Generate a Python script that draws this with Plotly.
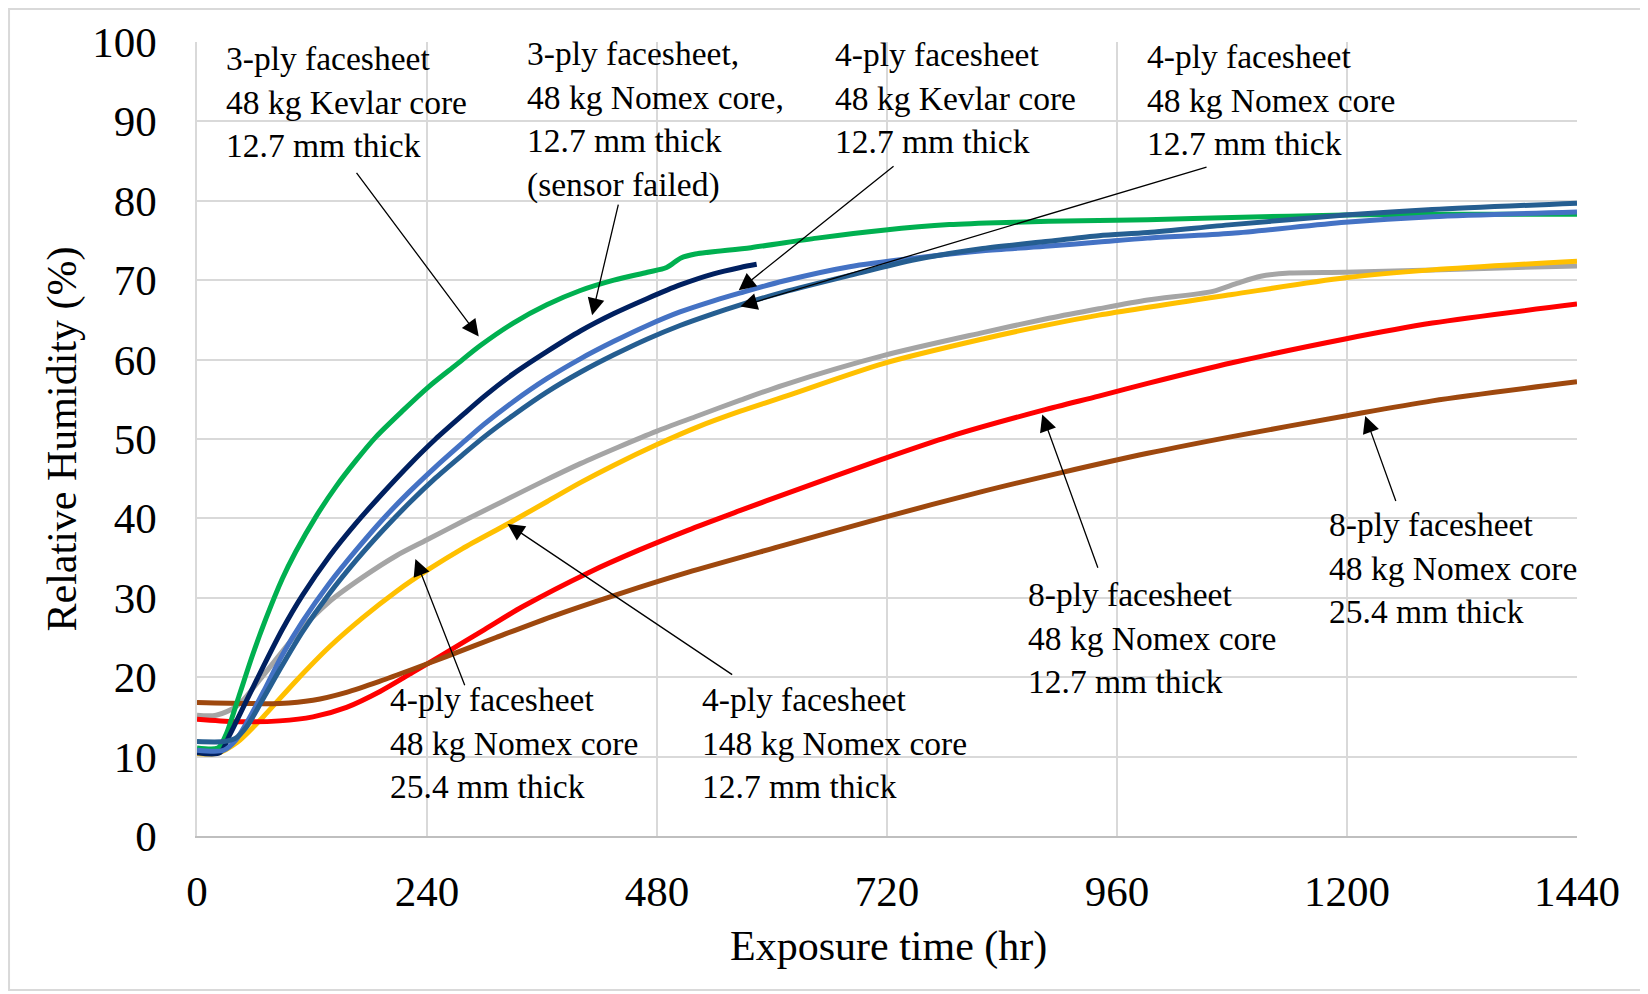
import plotly.graph_objects as go

# ---------------- data ----------------
green_x = [0, 22, 30, 44, 58, 72, 89, 103, 124, 145, 166, 187, 215, 242, 270, 296, 330, 365,
           400, 435, 470, 490, 505, 520, 578, 647, 716, 785, 854, 923, 992, 1080, 1198, 1289, 1440]
green_y = [11.1, 11.1, 12.7, 17.7, 22.8, 27.4, 32.4, 35.8, 40.2, 44.0, 47.3, 50.3, 53.6, 56.6,
           59.3, 61.8, 64.6, 66.9, 68.7, 70.0, 71.0, 71.6, 72.8, 73.3, 74.1, 75.3, 76.3, 77.0,
           77.3, 77.5, 77.6, 77.9, 78.2, 78.3, 78.3]

navy_x = [0, 24, 34, 51, 69, 89, 110, 138, 166, 194, 222, 249, 277, 300, 330, 365, 400, 435,
          470, 504, 539, 567, 584]
navy_y = [10.5, 10.5, 12.7, 16.9, 21.3, 26.0, 30.3, 35.2, 39.4, 43.2, 46.8, 50.0, 53.0, 55.4,
          58.2, 61.0, 63.6, 65.8, 67.7, 69.4, 70.8, 71.6, 72.0]

mblue_x = [0, 28, 40, 52, 69, 89, 110, 138, 166, 194, 222, 249, 277, 300, 330, 365, 400, 435,
           470, 504, 539, 567, 612, 681, 750, 820, 889, 941, 992, 1080, 1198, 1289, 1440]
mblue_y = [10.8, 10.8, 12.0, 14.3, 18.1, 22.8, 27.0, 31.8, 36.0, 39.9, 43.4, 46.5, 49.5, 51.9,
           54.7, 57.6, 60.1, 62.3, 64.3, 66.0, 67.4, 68.4, 69.9, 71.7, 72.8, 73.7, 74.3, 74.8,
           75.3, 75.9, 77.3, 78.0, 78.6]

sblue_x = [0, 28, 40, 52, 69, 89, 110, 138, 166, 194, 222, 249, 277, 300, 330, 365, 400, 435,
           470, 504, 539, 567, 612, 681, 750, 820, 889, 941, 992, 1080, 1198, 1289, 1440]
sblue_y = [11.9, 11.9, 12.3, 13.8, 17.3, 21.5, 25.7, 30.5, 34.7, 38.5, 42.0, 45.1, 48.0, 50.3,
           53.0, 55.9, 58.4, 60.6, 62.6, 64.3, 65.8, 66.9, 68.5, 70.6, 72.6, 74.0, 74.9, 75.6,
           76.0, 77.0, 78.2, 78.9, 79.7]

gray_x = [0, 20, 42, 69, 103, 138, 173, 208, 240, 280, 320, 360, 400, 440, 480, 520, 567, 612,
          716, 820, 889, 941, 992, 1060, 1085, 1110, 1140, 1198, 1289, 1440]
gray_y = [15.2, 15.2, 16.4, 20.2, 25.3, 29.5, 32.6, 35.3, 37.3, 39.8, 42.2, 44.6, 46.9, 49.0,
          51.0, 52.8, 54.9, 56.8, 60.5, 63.4, 65.2, 66.4, 67.5, 68.6, 69.6, 70.5, 70.9, 71.0,
          71.3, 71.8]

gold_x = [0, 21, 42, 69, 103, 138, 173, 208, 242, 277, 324, 365, 400, 435, 480, 522, 567, 612,
          716, 820, 889, 941, 1080, 1198, 1289, 1440]
gold_y = [10.4, 10.4, 11.8, 15.0, 19.5, 23.8, 27.5, 30.8, 33.6, 36.2, 39.3, 42.1, 44.5, 46.7,
          49.3, 51.5, 53.5, 55.3, 59.5, 62.6, 64.4, 65.6, 68.2, 70.3, 71.3, 72.4]

red_x = [0, 40, 86, 121, 156, 191, 225, 260, 300, 340, 409, 461, 512, 567, 612, 716, 785, 882,
         941, 992, 1080, 1198, 1289, 1440]
red_y = [14.7, 14.4, 14.5, 15.0, 16.2, 18.2, 20.6, 23.1, 26.0, 28.9, 33.2, 36.0, 38.5, 41.0,
         43.0, 47.5, 50.3, 53.6, 55.4, 57.0, 59.6, 62.6, 64.6, 67.0]

brown_x = [0, 86, 121, 156, 191, 225, 260, 312, 374, 443, 512, 612, 716, 820, 903, 992, 1080,
           1198, 1289, 1440]
brown_y = [16.8, 16.7, 17.1, 18.1, 19.5, 21.0, 22.6, 25.0, 27.8, 30.6, 33.2, 36.6, 40.1, 43.4,
           45.8, 48.2, 50.3, 52.9, 54.8, 57.2]

x_ticks = [0, 240, 480, 720, 960, 1200, 1440]
y_ticks = [0, 10, 20, 30, 40, 50, 60, 70, 80, 90, 100]

labels = [
    "3-ply facesheet<br>48 kg Kevlar core<br>12.7 mm thick",
    "3-ply facesheet,<br>48 kg Nomex core,<br>12.7 mm thick<br>(sensor failed)",
    "4-ply facesheet<br>48 kg Kevlar core<br>12.7 mm thick",
    "4-ply facesheet<br>48 kg Nomex core<br>12.7 mm thick",
    "4-ply facesheet<br>48 kg Nomex core<br>25.4 mm thick",
    "4-ply facesheet<br>148 kg Nomex core<br>12.7 mm thick",
    "8-ply facesheet<br>48 kg Nomex core<br>12.7 mm thick",
    "8-ply facesheet<br>48 kg Nomex core<br>25.4 mm thick",
]
# label anchor (left, middle) in data units
label_x = [28.6, 342, 663.5, 989, 199.5, 525.3, 865.3, 1179]
label_y = [92.4, 90.2, 93.0, 92.7, 11.7, 11.7, 25.0, 33.8]
# arrow tail / head in data units
arrow_tail_x = [165.3, 440, 728.4, 1055, 280, 560, 940.6, 1251.5]
arrow_tail_y = [83.7, 79.7, 84.5, 84.3, 18.8, 20.2, 33.6, 42.0]
arrow_head_x = [294, 412.3, 565.3, 567, 227.9, 324, 882, 1219]
arrow_head_y = [62.9, 65.6, 68.75, 66.7, 34.9, 39.3, 53.1, 52.9]

FONT = "Liberation Serif, Times New Roman, serif"

series = [
    (gray_x, gray_y, "#A5A5A5"),
    (gold_x, gold_y, "#FFC000"),
    (red_x, red_y, "#FF0000"),
    (brown_x, brown_y, "#9E480E"),
    (green_x, green_y, "#00B050"),
    (navy_x, navy_y, "#002060"),
    (mblue_x, mblue_y, "#4472C4"),
    (sblue_x, sblue_y, "#255E91"),
]

fig = go.Figure()
for xs, ys, col in series:
    fig.add_trace(go.Scatter(x=xs, y=ys, mode="lines",
                             line=dict(color=col, width=5, shape="spline", smoothing=0.8),
                             showlegend=False, hoverinfo="skip"))

annotations = []
for t, lx, ly in zip(labels, label_x, label_y):
    annotations.append(dict(x=lx, y=ly, xref="x", yref="y", text=t, showarrow=False,
                            xanchor="left", yanchor="middle", align="left",
                            font=dict(family=FONT, size=33.5, color="black")))
for tx, ty, hx, hy in zip(arrow_tail_x, arrow_tail_y, arrow_head_x, arrow_head_y):
    annotations.append(dict(x=hx, y=hy, xref="x", yref="y", ax=tx, ay=ty,
                            axref="x", ayref="y", text="", showarrow=True,
                            arrowhead=2, arrowsize=2.6, arrowwidth=1.3, arrowcolor="black"))
# axis titles
annotations.append(dict(x=-0.0975, y=0.5, xref="paper", yref="paper",
                        text="Relative Humidity (%)", textangle=-90, showarrow=False,
                        xanchor="center", yanchor="middle",
                        font=dict(family=FONT, size=42, color="black")))
annotations.append(dict(x=0.501, y=-0.139, xref="paper", yref="paper",
                        text="Exposure time (hr)", showarrow=False,
                        xanchor="center", yanchor="middle",
                        font=dict(family=FONT, size=42, color="black")))

fig.update_layout(
    width=1640, height=986,
    margin=dict(l=189, r=71, t=34, b=158),
    paper_bgcolor="white", plot_bgcolor="white",
    annotations=annotations,
    shapes=[dict(type="rect", xref="paper", yref="paper",
                 x0=-0.1362, x1=1.0478, y0=-0.194, y1=1.0416,
                 line=dict(color="#D9D9D9", width=2), layer="below")],
)
fig.update_xaxes(range=[0, 1440], tickvals=x_ticks, ticktext=[str(v) for v in x_ticks],
                 showgrid=True, gridcolor="#D9D9D9", gridwidth=1.5,
                 showline=True, linecolor="#BFBFBF", linewidth=2,
                 ticks="outside", ticklen=16, tickcolor="rgba(0,0,0,0)",
                 tickfont=dict(family=FONT, size=43, color="black"), zeroline=False)
fig.update_yaxes(range=[0, 100], tickvals=y_ticks, ticktext=[str(v) for v in y_ticks],
                 showgrid=True, gridcolor="#D9D9D9", gridwidth=1.5,
                 showline=True, linecolor="#D9D9D9", linewidth=1.5,
                 ticks="outside", ticklen=30, tickcolor="rgba(0,0,0,0)",
                 tickfont=dict(family=FONT, size=43, color="black"), zeroline=False)

fig.write_html("out.html")
